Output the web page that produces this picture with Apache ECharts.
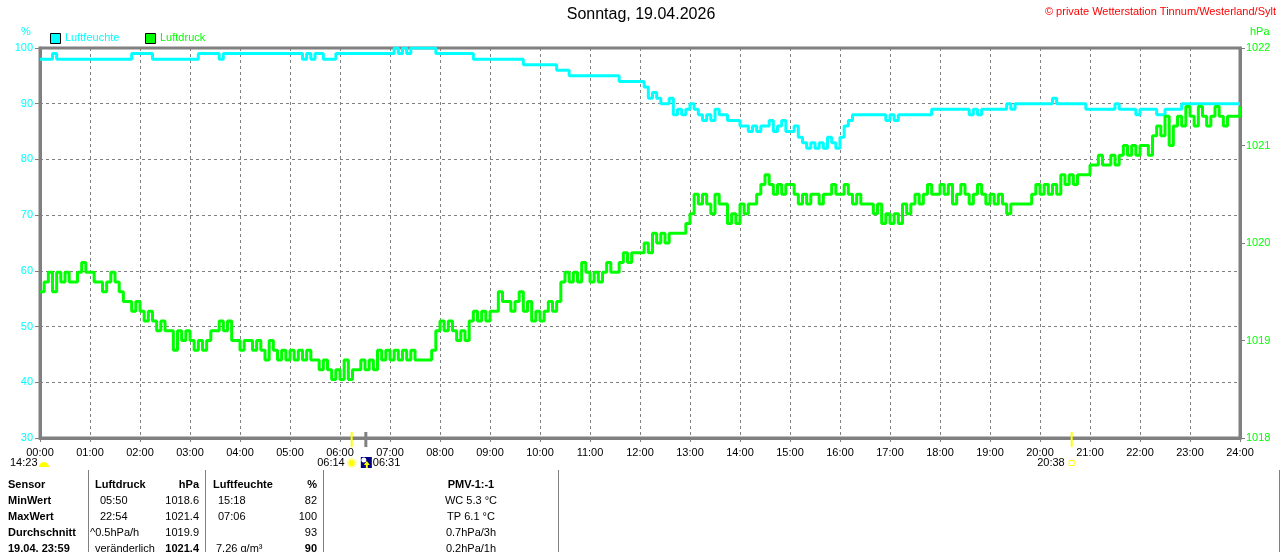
<!DOCTYPE html>
<html>
<head>
<meta charset="utf-8">
<script src="https://cdn.jsdelivr.net/npm/echarts@6/dist/echarts.min.js"></script>
<style>
html, body { margin: 0; padding: 0; background: #fff; }
#chart { width: 1280px; height: 552px; }
</style>
</head>
<body>
<div id="chart"></div>
<script>
// Zeitachse: ein Wert alle 5 Minuten, 00:00 .. 24:00
var timeLabels = ['00:00','01:00','02:00','03:00','04:00','05:00','06:00','07:00','08:00','09:00','10:00','11:00',
                  '12:00','13:00','14:00','15:00','16:00','17:00','18:00','19:00','20:00','21:00','22:00','23:00','24:00'];

// Luftfeuchte in %, eine Zeile pro Stunde
var humidity = [
  98,98,98,99,98,98,98,98,98,98,98,98,
  98,98,98,98,98,98,98,98,98,98,99,99,
  99,99,99,98,98,98,98,98,98,98,98,98,
  98,98,99,99,99,99,99,98,99,99,99,99,
  99,99,99,99,99,99,99,99,99,99,99,99,
  99,99,99,98,99,98,99,99,98,98,98,99,
  99,99,99,99,99,99,99,99,99,99,99,99,
  99,100,99,100,99,100,100,100,100,100,100,99,
  99,99,99,99,99,99,99,99,98,98,98,98,
  98,98,98,98,98,98,98,98,97,97,97,97,
  97,97,97,97,96,96,96,95,95,95,95,95,
  95,95,95,95,95,95,95,94,94,94,94,94,
  94,93,91,92,91,90,90,91,88,89,88,89,
  90,89,88,87,88,87,89,88,88,87,87,87,
  86,86,85,86,85,86,86,87,85,86,87,85,
  85,86,84,83,82,83,82,83,82,84,83,82,
  84,86,87,88,88,88,88,88,88,88,88,87,
  88,87,88,88,88,88,88,88,88,88,89,89,
  89,89,89,89,89,89,89,88,89,88,89,89,
  89,89,89,89,90,89,90,90,90,90,90,90,
  90,90,90,91,90,90,90,90,90,90,90,89,
  89,89,89,89,89,89,90,89,89,89,89,88,
  89,89,89,89,88,88,89,89,89,89,90,90,
  90,90,90,90,90,90,90,90,90,90,90,90,
  90
];

// Luftdruck in hPa, eine Zeile pro Stunde
var pressure = [
  1019.5,1019.6,1019.7,1019.5,1019.7,1019.6,1019.7,1019.6,1019.6,1019.7,1019.8,1019.7,
  1019.7,1019.6,1019.6,1019.5,1019.6,1019.7,1019.6,1019.5,1019.4,1019.4,1019.3,1019.4,
  1019.3,1019.2,1019.3,1019.2,1019.1,1019.2,1019.1,1019.1,1018.9,1019.1,1019.0,1019.1,
  1019.0,1018.9,1019.0,1018.9,1019.0,1019.1,1019.1,1019.2,1019.1,1019.2,1019.0,1019.0,
  1018.9,1019.0,1019.0,1018.9,1019.0,1018.9,1018.8,1019.0,1018.9,1018.8,1018.9,1018.8,
  1018.9,1018.8,1018.9,1018.8,1018.9,1018.8,1018.8,1018.7,1018.8,1018.7,1018.6,1018.7,
  1018.6,1018.8,1018.6,1018.7,1018.7,1018.8,1018.7,1018.8,1018.7,1018.9,1018.8,1018.9,
  1018.8,1018.9,1018.8,1018.9,1018.8,1018.9,1018.8,1018.8,1018.8,1018.8,1018.9,1019.1,
  1019.2,1019.1,1019.2,1019.1,1019.0,1019.1,1019.0,1019.2,1019.3,1019.2,1019.3,1019.2,
  1019.3,1019.3,1019.5,1019.4,1019.4,1019.3,1019.4,1019.5,1019.3,1019.4,1019.2,1019.3,
  1019.2,1019.3,1019.4,1019.3,1019.4,1019.6,1019.7,1019.6,1019.7,1019.6,1019.8,1019.7,
  1019.6,1019.7,1019.6,1019.7,1019.8,1019.7,1019.7,1019.8,1019.9,1019.8,1019.9,1019.9,
  1019.9,1020.0,1019.9,1020.1,1020.0,1020.1,1020.0,1020.1,1020.1,1020.1,1020.1,1020.2,
  1020.3,1020.5,1020.4,1020.5,1020.4,1020.3,1020.5,1020.4,1020.4,1020.2,1020.3,1020.2,
  1020.4,1020.3,1020.4,1020.4,1020.5,1020.6,1020.7,1020.6,1020.5,1020.6,1020.5,1020.6,
  1020.6,1020.5,1020.4,1020.5,1020.4,1020.5,1020.5,1020.4,1020.5,1020.5,1020.6,1020.5,
  1020.5,1020.6,1020.5,1020.4,1020.5,1020.4,1020.4,1020.4,1020.3,1020.4,1020.2,1020.3,
  1020.2,1020.3,1020.2,1020.4,1020.3,1020.4,1020.5,1020.4,1020.5,1020.6,1020.5,1020.5,
  1020.6,1020.5,1020.6,1020.4,1020.5,1020.6,1020.5,1020.4,1020.5,1020.6,1020.5,1020.4,
  1020.5,1020.4,1020.5,1020.4,1020.3,1020.4,1020.4,1020.4,1020.4,1020.4,1020.5,1020.6,
  1020.5,1020.6,1020.5,1020.6,1020.5,1020.7,1020.6,1020.7,1020.6,1020.7,1020.7,1020.7,
  1020.8,1020.8,1020.9,1020.8,1020.8,1020.9,1020.8,1020.9,1021.0,1020.9,1021.0,1020.9,
  1021.0,1021.0,1020.9,1021.1,1021.2,1021.1,1021.3,1021.0,1021.2,1021.3,1021.2,1021.4,
  1021.3,1021.2,1021.4,1021.3,1021.2,1021.3,1021.4,1021.3,1021.2,1021.3,1021.3,1021.3,
  1021.4
];

// Sonnenauf-/untergang, Dämmerung
var sunTimes = ['06:14', '06:31', '20:38'];
var moonTime = '14:23';

// Tabelle unter dem Diagramm
var tableHead = ['Sensor', 'Luftdruck', 'hPa', 'Luftfeuchte', '%', 'PMV-1:-1'];
var rowLabels = ['MinWert', 'MaxWert', 'Durchschnitt', '19.04. 23:59'];
var pressTimes = ['05:50', '22:54', '^0.5hPa/h', 'veränderlich'];
var pressValues = ['1018.6', '1021.4', '1019.9', '1021.4'];
var humTimes = ['15:18', '07:06', '', '7.26 g/m³'];
var humValues = ['82', '100', '93', '90'];
var pmvValues = ['WC 5.3 °C', 'TP 6.1 °C', '0.7hPa/3h', '0.2hPa/1h'];

var FONT = '"Liberation Sans", Arial, sans-serif';
var GRAY = '#808080';

function toMinutes(s) {
  var p = s.split(':');
  return parseInt(p[0], 10) * 60 + parseInt(p[1], 10);
}

var humData = humidity.map(function (v, i) { return [i * 5, v]; });
var pressData = pressure.map(function (v, i) { return [i * 5, v]; });

var chart = echarts.init(document.getElementById('chart'));

var option = {
  animation: false,
  backgroundColor: '#fff',
  grid: {
    left: 40, right: 40, top: 48, bottom: 114,
    show: true, borderColor: GRAY, borderWidth: 3
  },
  xAxis: {
    type: 'value',
    min: 0, max: 1440, interval: 60,
    axisLine: { lineStyle: { color: GRAY, width: 3 } },
    axisTick: { show: true, length: 4, lineStyle: { color: GRAY } },
    axisLabel: {
      color: '#000', fontSize: 11, fontFamily: FONT, margin: 9,
      formatter: function (v) { return timeLabels[Math.round(v / 60)]; }
    },
    splitLine: { show: true, lineStyle: { color: GRAY, type: [3, 3], width: 1 } }
  },
  yAxis: [
    {
      type: 'value', position: 'left',
      min: 30, max: 100, interval: 10,
      axisLine: { show: true, lineStyle: { color: GRAY, width: 3 } },
      axisTick: { show: true, length: 5, lineStyle: { color: GRAY } },
      axisLabel: { color: '#00ffff', fontSize: 11, fontFamily: FONT, margin: 7,
                   formatter: function (v) { return String(v); } },
      splitLine: { show: true, lineStyle: { color: GRAY, type: [3, 3], width: 1 } }
    },
    {
      type: 'value', position: 'right',
      min: 1018, max: 1022, interval: 1,
      axisLine: { show: true, lineStyle: { color: GRAY, width: 3 } },
      axisTick: { show: true, length: 5, lineStyle: { color: GRAY } },
      axisLabel: { color: '#00ff00', fontSize: 11, fontFamily: FONT, margin: 6,
                   formatter: function (v) { return String(v); } },
      splitLine: { show: false }
    }
  ],
  series: [
    {
      name: 'Luftfeuchte', type: 'line', yAxisIndex: 0,
      data: humData, step: 'end', showSymbol: false,
      lineStyle: { color: '#00ffff', width: 3 }, z: 3
    },
    {
      name: 'Luftdruck', type: 'line', yAxisIndex: 1,
      data: pressData, step: 'end', showSymbol: false,
      lineStyle: { color: '#00ff00', width: 3 }, z: 4
    }
  ]
};

chart.setOption(option);

// --- Texte und Symbole ---
function txt(x, y, s, color, opts) {
  opts = opts || {};
  return {
    type: 'text', x: x, y: y, z: 10,
    style: {
      text: s, fill: color || '#000',
      font: (opts.bold ? 'bold ' : '') + (opts.size || 11) + 'px ' + FONT,
      textAlign: opts.align || 'left', textVerticalAlign: 'middle'
    }
  };
}
function ln(x1, y1, x2, y2, color, w) {
  return { type: 'line', z: 10, shape: { x1: x1, y1: y1, x2: x2, y2: y2 },
           style: { stroke: color, lineWidth: w || 1 } };
}

var g = [];
g.push(txt(641, 15, 'Sonntag, 19.04.2026', '#000', { size: 16, align: 'center' }));
g.push(txt(1276, 12, '© private Wetterstation Tinnum/Westerland/Sylt', '#ff0000', { align: 'right' }));
g.push(txt(26, 32, '%', '#00ffff', { align: 'center' }));
g.push(txt(1250, 32, 'hPa', '#00ff00'));

// Legende
g.push({ type: 'rect', z: 10, shape: { x: 50.5, y: 33.5, width: 10, height: 10 },
         style: { fill: '#00ffff', stroke: '#000', lineWidth: 1 } });
g.push(txt(65, 38, 'Luftfeuchte', '#00ffff'));
g.push({ type: 'rect', z: 10, shape: { x: 145.5, y: 33.5, width: 10, height: 10 },
         style: { fill: '#00ff00', stroke: '#000', lineWidth: 1 } });
g.push(txt(160, 38, 'Luftdruck', '#00ff00'));

// Sonnenmarken auf der Zeitachse
var xRise = chart.convertToPixel({ xAxisIndex: 0 }, toMinutes(sunTimes[0]));
var xDawn = chart.convertToPixel({ xAxisIndex: 0 }, toMinutes(sunTimes[1]));
var xSet = chart.convertToPixel({ xAxisIndex: 0 }, toMinutes(sunTimes[2]));

g.push(ln(xRise, 432, xRise, 447, '#ffff00', 2));
g.push(ln(xDawn, 432, xDawn, 447, GRAY, 3));
g.push(ln(xSet, 432, xSet, 447, '#ffff00', 2));

g.push(txt(xRise - 7, 463, sunTimes[0], '#000', { align: 'right' }));
g.push({ type: 'circle', z: 10, shape: { cx: xRise, cy: 463, r: 4 },
         style: { fill: '#ffff00', stroke: '#ffffa0', lineWidth: 2 } });

g.push({ type: 'rect', z: 10, shape: { x: xDawn - 5, y: 457, width: 11, height: 11 },
         style: { fill: '#00007f' } });
g.push({ type: 'circle', z: 11, shape: { cx: xDawn - 2, cy: 460, r: 2.5 }, style: { fill: '#fff' } });
g.push({ type: 'polygon', z: 11,
         shape: { points: [[xDawn + 1, 461], [xDawn + 4, 465], [xDawn + 2, 465], [xDawn + 2, 468],
                           [xDawn, 468], [xDawn, 465], [xDawn - 2, 465]] },
         style: { fill: '#ffff00' } });
g.push(txt(xDawn + 7, 463, sunTimes[1], '#000'));

g.push(txt(xSet - 7, 463, sunTimes[2], '#000', { align: 'right' }));
g.push({ type: 'rect', z: 10, shape: { x: xSet - 2.5, y: 460.5, width: 5, height: 5 },
         style: { fill: '#fff', stroke: '#ffff00', lineWidth: 1 } });

// Mond links unten
g.push(txt(10, 463, moonTime, '#000'));
g.push({ type: 'sector', z: 10,
         shape: { cx: 44, cy: 467, r: 5, startAngle: Math.PI, endAngle: Math.PI * 2, clockwise: true },
         style: { fill: '#ffff00' } });

// Tabelle
[88, 205, 323, 558, 1279].forEach(function (x) {
  g.push(ln(x + 0.5, 470, x + 0.5, 552, GRAY, 1));
});
var rowY = [485, 501, 517, 533, 549];
g.push(txt(8, rowY[0], tableHead[0], '#000', { bold: true }));
g.push(txt(95, rowY[0], tableHead[1], '#000', { bold: true }));
g.push(txt(199, rowY[0], tableHead[2], '#000', { bold: true, align: 'right' }));
g.push(txt(213, rowY[0], tableHead[3], '#000', { bold: true }));
g.push(txt(317, rowY[0], tableHead[4], '#000', { bold: true, align: 'right' }));
g.push(txt(471, rowY[0], tableHead[5], '#000', { bold: true, align: 'center' }));

var pressTimeX = [100, 100, 90, 95];
var humTimeX = [218, 218, 218, 216];
rowLabels.forEach(function (lab, i) {
  var y = rowY[i + 1];
  var last = i === rowLabels.length - 1;
  g.push(txt(8, y, lab, '#000', { bold: true }));
  g.push(txt(pressTimeX[i], y, pressTimes[i], '#000'));
  g.push(txt(199, y, pressValues[i], '#000', { bold: last, align: 'right' }));
  g.push(txt(humTimeX[i], y, humTimes[i], '#000'));
  g.push(txt(317, y, humValues[i], '#000', { bold: last, align: 'right' }));
  g.push(txt(471, y, pmvValues[i], '#000', { align: 'center' }));
});

chart.setOption({ graphic: g });
</script>
</body>
</html>
